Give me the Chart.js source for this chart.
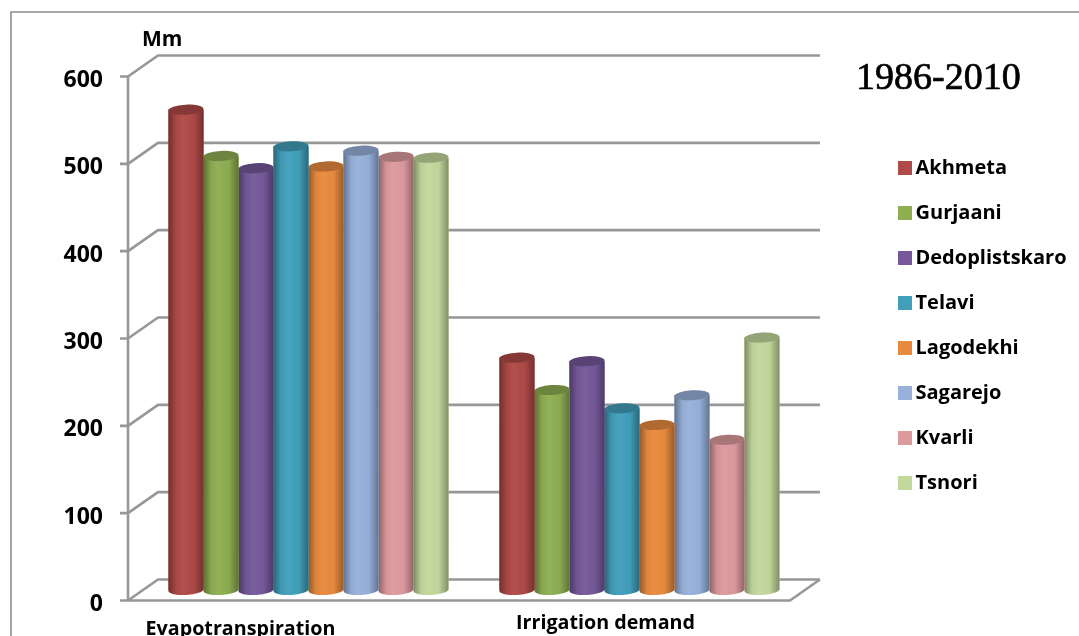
<!DOCTYPE html>
<html>
<head>
<meta charset="utf-8">
<title>Evapotranspiration and irrigation demand</title>
<script src="https://cdn.jsdelivr.net/npm/chart.js@4/dist/chart.umd.min.js"></script>
<style>
  html, body { margin: 0; padding: 0; background: #fff; overflow: hidden; }
  canvas { display: block; }
</style>
</head>
<body>
<canvas id="chart" width="1079" height="636"></canvas>
<script>
const categories = ['Evapotranspiration', 'Irrigation demand'];
const stations = ['Akhmeta', 'Gurjaani', 'Dedoplistskaro', 'Telavi', 'Lagodekhi', 'Sagarejo', 'Kvarli', 'Tsnori'];

const akhmeta = [550, 266];
const gurjaani = [497, 229];
const dedoplistskaro = [483, 262];
const telavi = [508, 208];
const lagodekhi = [485, 189];
const sagarejo = [503, 223];
const kvarli = [496, 172];
const tsnori = [495, 289];

const seriesValues = [akhmeta, gurjaani, dedoplistskaro, telavi, lagodekhi, sagarejo, kvarli, tsnori];
const seriesColors = ['#b04a48', '#8fae52', '#75599a', '#429fbb', '#e88b3e', '#98b1da', '#dd9a9e', '#c2d89c'];

const TITLE = '1986-2010';
const UNIT = 'Mm';
const Y_MAX = 600;
const Y_STEP = 100;

// half of the floor depth, the walls sit this far behind / in front of the bars
const DEPTH_X = 15;
const DEPTH_Y = 10.5;
const LINE_COLOR = '#979797';
const LEGEND_PADDING = 25;
const LABEL_FONT = '"Open Sans"';

function line(ctx, points) {
  ctx.beginPath();
  points.forEach(([x, y], i) => (i ? ctx.lineTo(x, y) : ctx.moveTo(x, y)));
  ctx.stroke();
}

function cylinderShade(ctx, left, right) {
  const g = ctx.createLinearGradient(left, 0, right, 0);
  g.addColorStop(0, 'rgba(0,0,0,0.36)');
  g.addColorStop(0.22, 'rgba(0,0,0,0.04)');
  g.addColorStop(0.42, 'rgba(255,255,255,0.04)');
  g.addColorStop(0.72, 'rgba(0,0,0,0.02)');
  g.addColorStop(1, 'rgba(0,0,0,0.34)');
  return g;
}

const depthPlugin = {
  id: 'depth',
  // lift the legend out of its docked slot and into the right-hand column
  afterLayout(chart) {
    const legend = chart.legend;
    legend.left = 904.5 - LEGEND_PADDING;
    legend.right = 1079;
    legend.top = 158 - LEGEND_PADDING;
    legend.bottom = 636;
  },
  beforeDatasetsDraw(chart) {
    const { ctx, chartArea, scales: { y } } = chart;
    ctx.save();

    // outer frame, runs off the right and bottom of the page
    ctx.strokeStyle = '#8c8c8c';
    ctx.lineWidth = 1.6;
    line(ctx, [[11, 636], [11, 12], [1079, 12]]);

    ctx.strokeStyle = LINE_COLOR;
    ctx.lineWidth = 2.6;
    const frontX = chartArea.left - DEPTH_X;
    const backX = chartArea.left + DEPTH_X;
    const backRight = chartArea.right + DEPTH_X;
    y.ticks.forEach((tick) => {
      const py = y.getPixelForValue(tick.value);
      const front = py + DEPTH_Y;
      const back = py - DEPTH_Y;
      line(ctx, [[frontX - 8, front], [frontX, front], [backX, back], [backRight, back]]);
    });

    // value axis and the floor outline
    const floorFront = y.getPixelForValue(0) + DEPTH_Y;
    const floorBack = y.getPixelForValue(0) - DEPTH_Y;
    line(ctx, [[frontX, y.getPixelForValue(Y_MAX) + DEPTH_Y], [frontX, floorFront]]);
    line(ctx, [[frontX, floorFront], [chartArea.right - DEPTH_X, floorFront], [backRight, floorBack]]);
    ctx.restore();
  },
  // turn each flat bar into a cylinder, one series at a time so they overlap in order
  afterDatasetDraw(chart, args) {
    const { ctx } = chart;
    const color = seriesColors[args.index];
    const meta = chart.getDatasetMeta(args.index);
    meta.data.forEach((bar) => {
      const left = bar.x - bar.width / 2;
      const right = bar.x + bar.width / 2;
      const rx = bar.width / 2;
      const ry = 5;
      const tilt = -0.055;
      ctx.save();
      ctx.beginPath();
      ctx.ellipse(bar.x, bar.base, rx, ry, tilt, 0, Math.PI);
      ctx.lineTo(left, bar.y);
      ctx.lineTo(right, bar.y);
      ctx.closePath();
      ctx.fillStyle = color;
      ctx.fill();
      ctx.fillStyle = cylinderShade(ctx, left, right);
      ctx.fill();

      ctx.beginPath();
      ctx.ellipse(bar.x, bar.y, rx, ry, tilt, 0, Math.PI * 2);
      ctx.fillStyle = color;
      ctx.fill();
      ctx.fillStyle = 'rgba(0,0,0,0.24)';
      ctx.fill();
      ctx.restore();
    });
  },
  afterDraw(chart) {
    const { ctx, scales: { x } } = chart;
    ctx.save();
    ctx.fillStyle = '#000';
    ctx.strokeStyle = '#000';
    ctx.textBaseline = 'middle';

    ctx.textAlign = 'left';
    ctx.font = `bold 21px ${LABEL_FONT}`;
    ctx.fillText(UNIT, 142, 40);

    ctx.font = '38px "Liberation Serif"';
    ctx.lineWidth = 0.7;
    ctx.fillText(TITLE, 856, 79);
    ctx.strokeText(TITLE, 856, 79);

    // category names sit left of their groups, each at its own height
    ctx.textAlign = 'center';
    ctx.font = `bold 19.7px ${LABEL_FONT}`;
    ctx.fillText(categories[0], x.getPixelForValue(0) - 68, 629);
    ctx.fillText(categories[1], x.getPixelForValue(1) - 34, 623);
    ctx.restore();
  },
};

new Chart(document.getElementById('chart'), {
  type: 'bar',
  data: {
    labels: categories,
    datasets: stations.map((label, i) => ({
      label,
      data: seriesValues[i],
      backgroundColor: seriesColors[i],
      borderWidth: 0,
      barPercentage: 1,
      categoryPercentage: 0.846,
    })),
  },
  options: {
    responsive: false,
    animation: false,
    layout: { padding: { top: 66, bottom: 38, right: 77, left: 0 } },
    scales: {
      x: {
        grid: { display: false },
        border: { display: false },
        ticks: { display: false },
      },
      y: {
        min: 0,
        max: Y_MAX,
        grid: { display: false },
        border: { display: false },
        afterFit(scale) { scale.width = 143; },
        ticks: {
          stepSize: Y_STEP,
          padding: 32,
          labelOffset: 14.5,
          color: '#000',
          font: { family: 'Open Sans', weight: 'bold', size: 23 },
        },
      },
    },
    plugins: {
      tooltip: { enabled: false },
      legend: {
        position: 'right',
        align: 'start',
        labels: {
          usePointStyle: true,
          pointStyle: 'rect',
          boxWidth: 1,
          boxHeight: 14,
          padding: LEGEND_PADDING,
          color: '#000',
          font: { family: 'Open Sans', weight: 'bold', size: 20 },
        },
      },
    },
  },
  plugins: [depthPlugin],
});
</script>
</body>
</html>
